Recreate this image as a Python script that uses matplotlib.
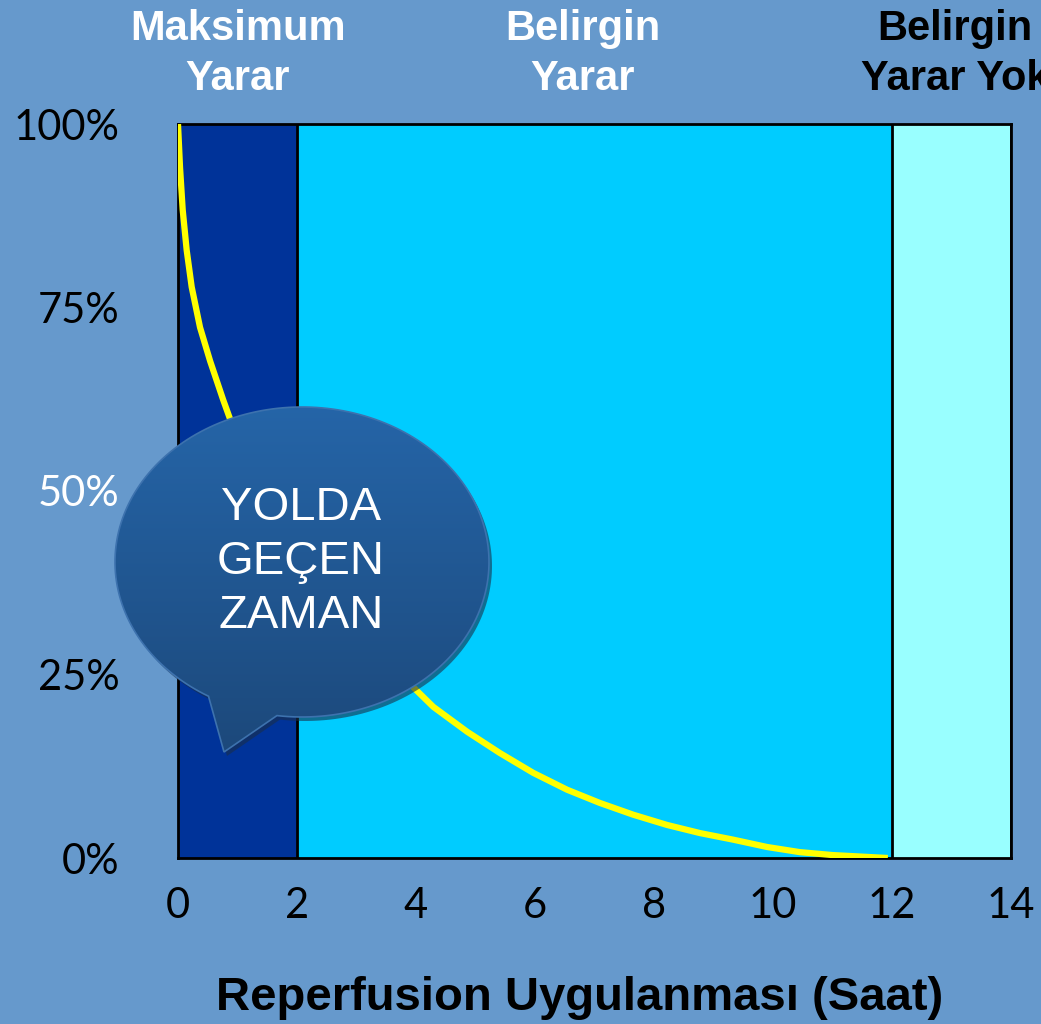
import numpy as np
import matplotlib.pyplot as plt
from matplotlib.path import Path
from matplotlib.patches import PathPatch

# Data
zone_edges = [0, 2, 12, 14]
zone_colors = ["#003399", "#00CCFF", "#99FFFF"]
zone_titles = ["Maksimum\nYarar", "Belirgin\nYarar", "Belirgin\nYarar Yok"]
zone_title_colors = ["white", "white", "black"]

hours = [0, 0.034, 0.079, 0.146, 0.23, 0.37, 0.54, 0.76, 1.0, 1.4, 1.9, 2.5,
         3.2, 3.95, 4.29, 4.86, 5.41, 5.97, 6.54, 7.09, 7.65, 8.22, 8.77,
         9.33, 9.9, 10.45, 11.0, 11.93]
benefit = [100, 94.1, 88.3, 82.8, 77.8, 72.3, 67.7, 62.4, 57, 50, 43, 36,
           29, 23.3, 20.6, 17.2, 14.3, 11.6, 9.3, 7.5, 5.9, 4.5, 3.4,
           2.5, 1.5, 0.8, 0.4, 0]

x_ticks = [0, 2, 4, 6, 8, 10, 12, 14]
y_ticks = [0, 25, 50, 75, 100]
y_tick_labels = ["0%", "25%", "50%", "75%", "100%"]
y_tick_colors = ["black", "black", "white", "black", "black"]

bg = "#6699CC"
W, H = 1041, 1024

fig = plt.figure(figsize=(W / 100, H / 100), dpi=100, facecolor=bg)
ax = fig.add_axes([178 / W, 1 - 858 / H, (1011 - 178) / W, (858 - 124) / H])
ax.set_facecolor(bg)

# shaded zones
for i in range(len(zone_colors)):
    ax.axvspan(zone_edges[i], zone_edges[i + 1], color=zone_colors[i], zorder=1)
    ax.axvline(zone_edges[i + 1], color="black", lw=2, zorder=2)

ax.plot(hours, benefit, color="#FFFF00", lw=4.5, zorder=3,
        solid_capstyle="butt", solid_joinstyle="round")

ax.set_xlim(0, 14)
ax.set_ylim(0, 100)
for s in ax.spines.values():
    s.set_linewidth(2)
    s.set_color("black")

tick_font = "Lato"
ax.set_xticks(x_ticks)
ax.set_xticklabels([str(t) for t in x_ticks], fontsize=30, family=tick_font)
ax.set_yticks(y_ticks)
ax.set_yticklabels(y_tick_labels, fontsize=30, family=tick_font)
for lbl, c in zip(ax.get_yticklabels(), y_tick_colors):
    lbl.set_color(c)
ax.tick_params(axis="x", length=0, pad=21)
ax.tick_params(axis="y", length=0, pad=42)

# zone titles above the plot
centers = [238, 583, 955]
for cx, t, c in zip(centers, zone_titles, zone_title_colors):
    fig.text(cx / W, 1 - 54 / H, t, ha="center", va="center", color=c,
             fontsize=30, fontweight="bold", family="Liberation Sans",
             linespacing=1.3)

fig.text(580 / W, 1 - 998 / H, "Reperfusion Uygulanması (Saat)", ha="center",
         va="center", fontsize=34, fontweight="bold", family="Liberation Sans",
         color="black")

# speech bubble overlay in pixel coordinates
ov = fig.add_axes([0, 0, 1, 1], zorder=5)
ov.set_xlim(0, W)
ov.set_ylim(H, 0)
ov.axis("off")

cx, cy, a, b = 302, 562, 187, 155
t = np.radians(np.linspace(120, 360 + 97.7, 200))
verts = np.column_stack([cx + a * np.cos(t), cy + b * np.sin(t)])
verts = np.vstack([verts, [[224, 752]], verts[:1]])
codes = [Path.MOVETO] + [Path.LINETO] * (len(verts) - 2) + [Path.CLOSEPOLY]
bubble = Path(verts, codes)

shadow = PathPatch(Path(verts + [3, 4], codes), facecolor="#1A2F4A",
                   edgecolor="none", alpha=0.6, zorder=1)
ov.add_patch(shadow)

outline = PathPatch(bubble, facecolor="none", edgecolor="#3D72AE", lw=1.2, zorder=3)
ov.add_patch(outline)

top = np.array([0x25, 0x65, 0xA8]) / 255
bot = np.array([0x1C, 0x48, 0x7A]) / 255
grad = np.linspace(top, bot, 256)[:, None, :]
im = ov.imshow(grad, extent=[110, 495, 760, 405], aspect="auto", zorder=2,
               interpolation="bilinear")
clip = PathPatch(bubble, transform=ov.transData, facecolor="none", edgecolor="none")
ov.add_patch(clip)
im.set_clip_path(clip)
ov.set_xlim(0, W)
ov.set_ylim(H, 0)

ov.text(301, 562, "YOLDA\nGEÇEN\nZAMAN", ha="center", va="center", color="white",
        fontsize=34, family="Liberation Sans", linespacing=1.3, zorder=4)

fig.savefig("out.png", dpi=100, facecolor=bg)
